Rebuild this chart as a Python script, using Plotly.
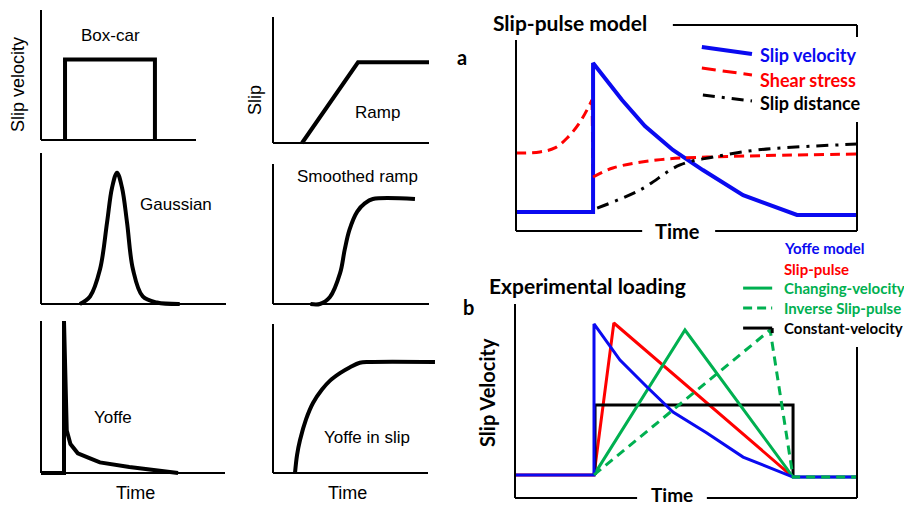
import plotly.graph_objects as go

W, H = 904, 507

# ---------------- data (time in 0..10 units, value in 0..1 units per panel) ----------------
boxcar_t = [1.55, 1.55, 7.35, 7.35]
boxcar_v = [0.0, 0.62, 0.62, 0.0]

ramp_t = [1.86, 5.45, 10.0]
ramp_v = [0.0, 0.64, 0.64]

gauss_t = [2.1, 2.65, 3.19, 3.57, 3.84, 4.11, 4.38, 4.65, 4.97, 5.5, 6.27, 7.5]
gauss_v = [0.0, 0.05, 0.23, 0.54, 0.77, 0.87, 0.77, 0.54, 0.23, 0.05, 0.01, 0.0]

sramp_t = [2.4, 3.0, 3.65, 4.3, 4.6, 4.9, 5.4, 5.9, 6.4, 9.1]
sramp_v = [0.0, 0.0, 0.05, 0.22, 0.39, 0.53, 0.66, 0.72, 0.75, 0.75]

yoffe_t = [0.0, 1.25, 1.25, 1.32, 1.4, 1.6, 2.0, 2.6, 3.2, 4.8, 6.5, 7.45]
yoffe_v = [0.0, 0.0, 1.0, 0.5, 0.28, 0.19, 0.13, 0.10, 0.07, 0.04, 0.015, 0.0]

yslip_t = [1.42, 1.55, 1.74, 2.13, 2.58, 3.16, 3.68, 4.32, 4.97, 5.6, 6.26, 10.45]
yslip_v = [0.0, 0.12, 0.22, 0.36, 0.47, 0.56, 0.62, 0.67, 0.71, 0.74, 0.745, 0.745]

# Panel a: slip-pulse model
sv_t = [0.0, 2.26, 2.26, 3.11, 3.78, 4.60, 5.48, 6.66, 8.24, 10.0]
sv_v = [0.10, 0.10, 0.88, 0.686, 0.55, 0.424, 0.319, 0.188, 0.084, 0.084]
ss_pre_t = [0.0, 0.70, 1.14, 1.50, 1.88, 2.23]
ss_pre_v = [0.408, 0.414, 0.435, 0.487, 0.571, 0.686]
ss_drop_t = [2.23, 2.26]
ss_drop_v = [0.686, 0.283]
ss_post_t = [2.26, 2.84, 4.13, 5.6, 10.0]
ss_post_v = [0.283, 0.33, 0.372, 0.387, 0.403]
sd_t = [2.38, 3.64, 4.81, 5.78, 7.07, 10.0]
sd_v = [0.12, 0.215, 0.346, 0.387, 0.424, 0.455]
legend_a_labels = ["Slip velocity", "Shear stress", "Slip distance"]

# Panel b: experimental loading
yof_t = [0.0, 2.31, 2.31, 3.07, 3.86, 4.62, 5.61, 6.67, 8.13, 10.0]
yof_v = [0.119, 0.119, 0.897, 0.711, 0.572, 0.443, 0.335, 0.211, 0.108, 0.108]
sp_t = [0.0, 2.31, 2.89, 8.13]
sp_v = [0.119, 0.119, 0.902, 0.108]
cv_t = [2.31, 4.97, 8.13, 10.0]
cv_v = [0.119, 0.866, 0.108, 0.108]
isp_t = [2.31, 7.46, 8.13, 10.0]
isp_v = [0.119, 0.866, 0.108, 0.108]
const_t = [2.34, 2.34, 8.13, 8.13]
const_v = [0.119, 0.479, 0.479, 0.108]
legend_b_labels = ["Yoffe model", "Slip-pulse", "Changing-velocity", "Inverse Slip-pulse", "Constant-velocity"]

BLUE = "#0a0af0"
RED = "#ff0000"
GREEN = "#00b050"
BLACK = "#000000"

# ---------------- panel geometry (pixel boxes: x_origin, x_end, y_origin, y_top) ----------------
panels = {
    1: (41, 196, 140, 10),
    2: (273, 429, 143, 17),
    3: (41, 226, 304, 153),
    4: (273, 429, 304, 164),
    5: (41, 225, 473, 321),
    6: (273, 428, 473, 324),
    7: (516, 857, 231, 40),
    8: (515, 857, 498, 304),
}
PAD = 28

fig = go.Figure()
layout_axes = {}
for i, (x0, x1, yb, yt) in panels.items():
    sx = 10.0 / (x1 - x0)
    sy = 1.0 / (yb - yt)
    dx0 = max(0.0, (x0 - PAD) / W)
    dx1 = min(1.0, (x1 + PAD) / W)
    dy0 = max(0.0, 1 - (yb + PAD) / H)
    dy1 = min(1.0, 1 - (yt - PAD) / H)
    rx = [(dx0 * W - x0) * sx, (dx1 * W - x0) * sx]
    ry = [(yb - H * (1 - dy0)) * sy, (yb - H * (1 - dy1)) * sy]
    sfx = "" if i == 1 else str(i)
    layout_axes["xaxis" + sfx] = dict(domain=[dx0, dx1], range=rx, visible=False,
                                      fixedrange=True, anchor="y" + sfx)
    layout_axes["yaxis" + sfx] = dict(domain=[dy0, dy1], range=ry, visible=False,
                                      fixedrange=True, anchor="x" + sfx)


def ref(i):
    return ("x" if i == 1 else "x%d" % i), ("y" if i == 1 else "y%d" % i)


def add_line(i, t, v, color=BLACK, width=4, dash="solid", shape="linear"):
    xr, yr = ref(i)
    fig.add_trace(go.Scatter(x=t, y=v, mode="lines", xaxis=xr, yaxis=yr,
                             line=dict(color=color, width=width, dash=dash, shape=shape),
                             showlegend=False, hoverinfo="skip"))


shapes = []


def seg(i, xa, ya, xb, yb, width=2, color=BLACK):
    xr, yr = ref(i)
    shapes.append(dict(type="line", xref=xr, yref=yr, x0=xa, y0=ya, x1=xb, y1=yb,
                       line=dict(color=color, width=width)))


# axes for the six small panels
for i in range(1, 7):
    seg(i, 0, 0, 10, 0)
    seg(i, 0, 0, 0, 1)

# frames for panels a and b (with gaps)
seg(7, 0, 0, 0, 1)
seg(7, 0, 0, 3.70, 0)
seg(7, 5.84, 0, 10, 0)
seg(7, 10, 0, 10, 0.571)
seg(7, 10, 1.016, 10, 1.079)
seg(7, 4.6, 1.079, 10, 1.079)

seg(8, 0, 0, 0, 1)
seg(8, 0, 0, 3.57, 0)
seg(8, 5.61, 0, 10, 0)
seg(8, 10, 0, 10, 0.778)

# small-panel curves
add_line(1, boxcar_t, boxcar_v)
add_line(2, ramp_t, ramp_v)
add_line(3, gauss_t, gauss_v, shape="spline")
add_line(4, sramp_t, sramp_v, shape="spline")
add_line(5, yoffe_t, yoffe_v)
add_line(6, yslip_t, yslip_v, shape="spline")

# panel a
add_line(7, ss_pre_t, ss_pre_v, RED, 3, "10px,6px", "spline")
add_line(7, ss_drop_t, ss_drop_v, RED, 3, "10px,6px")
add_line(7, sv_t, sv_v, BLUE, 4)
add_line(7, ss_post_t, ss_post_v, RED, 3, "10px,6px", "spline")
add_line(7, sd_t, sd_v, BLACK, 3, "12px,7px,3px,7px", "spline")
# legend a (slanted samples)
add_line(7, [5.45, 6.92], [0.963, 0.927], BLUE, 4)
add_line(7, [5.45, 6.92], [0.853, 0.817], RED, 3, "14px,7px")
add_line(7, [5.48, 6.92], [0.712, 0.681], BLACK, 3, "12px,7px,3px,7px")

# panel b
add_line(8, sp_t, sp_v, RED, 3)
add_line(8, const_t, const_v, BLACK, 3)
add_line(8, cv_t, cv_v, GREEN, 3)
add_line(8, yof_t, yof_v, BLUE, 3)
add_line(8, isp_t, isp_v, GREEN, 3, "9px,6px")
# legend b
leg_v = [1.289, 1.180, 1.082, 0.979, 0.876]
leg_col = [BLUE, RED, GREEN, GREEN, BLACK]
leg_dash = ["solid", "solid", "solid", "9px,5px", "solid"]
for v, c, d in zip(leg_v, leg_col, leg_dash):
    add_line(8, [6.67, 7.52], [v, v], c, 3, d)
add_line(8, [7.52, 7.52], [0.876, 0.85], BLACK, 3)

# ---------------- text ----------------
ann = []


def txt(x, y, s, size, color=BLACK, family="Liberation Sans, Arial", bold=False,
        angle=0, xanchor="center"):
    if bold:
        s = "<b>%s</b>" % s
    ann.append(dict(x=x / W, y=1 - y / H, xref="paper", yref="paper", text=s,
                    showarrow=False, textangle=angle, xanchor=xanchor, yanchor="middle",
                    font=dict(size=size, color=color, family=family)))


txt(110, 35, "Box-car", 17)
txt(18, 85, "Slip velocity", 18, angle=-90)
txt(255, 100, "Slip", 18, angle=-90)
txt(377, 112, "Ramp", 17)
txt(176, 204, "Gaussian", 17)
txt(357, 176, "Smoothed ramp", 17)
txt(113, 417, "Yoffe", 17)
txt(367, 437, "Yoffe in slip", 17)
txt(135, 493, "Time", 18)
txt(347, 493, "Time", 18)

CAL = "Lato, Open Sans, sans-serif"
txt(570, 22, "Slip-pulse model", 21, family=CAL, bold=True)
txt(462, 57, "a", 20, family=CAL, bold=True)
txt(677, 231, "Time", 20, family=CAL, bold=True)
for lab, y, c in zip(legend_a_labels, [55, 80, 103], [BLUE, RED, BLACK]):
    txt(758, y, lab, 18, color=c, family=CAL, bold=True, xanchor="left")

txt(587, 285, "Experimental loading", 21, family=CAL, bold=True)
txt(468, 307, "b", 20, family=CAL, bold=True)
txt(487, 393, "Slip Velocity", 20, family=CAL, bold=True, angle=-90)
txt(672, 494, "Time", 19, family=CAL, bold=True)
leg_text_col = [BLUE, RED, GREEN, GREEN, BLACK]
for lab, y, c in zip(legend_b_labels, [248, 269, 288, 308, 328], leg_text_col):
    txt(782, y, lab, 15, color=c, family=CAL, bold=True, xanchor="left")

fig.update_layout(width=W, height=H, margin=dict(l=0, r=0, t=0, b=0),
                  paper_bgcolor="white", plot_bgcolor="rgba(0,0,0,0)",
                  showlegend=False, shapes=shapes, annotations=ann, **layout_axes)

fig.write_html("out.html", config={"displayModeBar": False},
               post_script="document.body.style.margin='0';document.body.style.overflow='hidden';")
